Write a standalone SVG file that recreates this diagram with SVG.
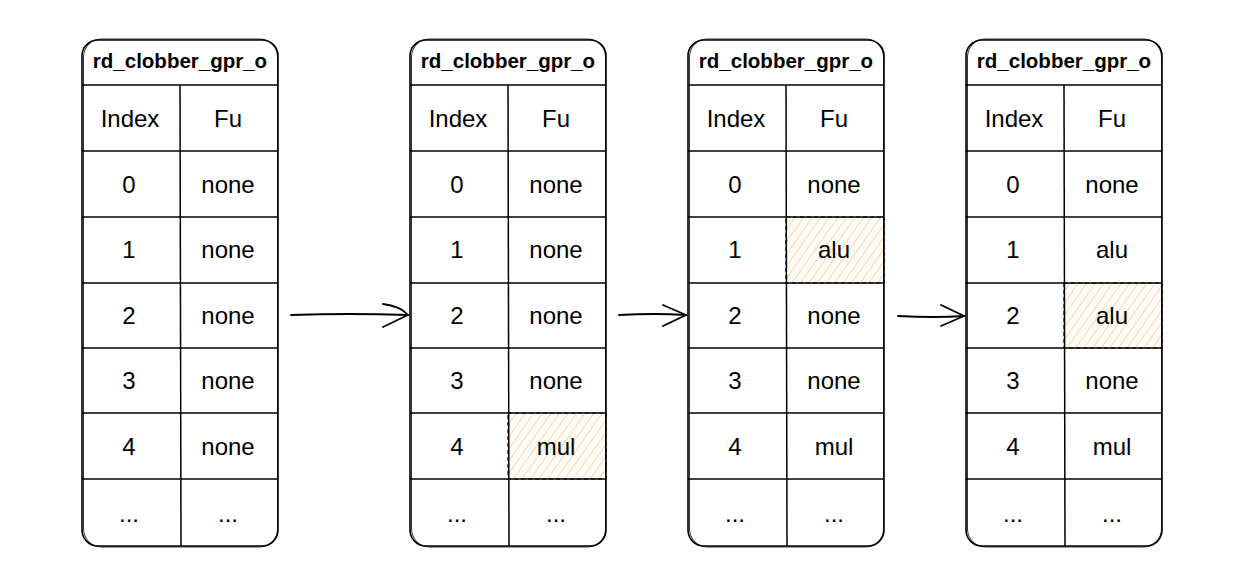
<svg xmlns="http://www.w3.org/2000/svg" width="1251" height="588" viewBox="0 0 1251 588">
<style>
.frame{fill:none;stroke:#000;stroke-width:1.6}
.frame2{fill:none;stroke:#000;stroke-width:1;opacity:0.8}
.ln{stroke:#000;stroke-width:1.5;fill:none}
.hd{font-family:"Liberation Sans",Arial,sans-serif;font-size:20.5px;font-weight:bold;text-anchor:middle;fill:#000}
.tx{font-family:"Liberation Sans",Arial,sans-serif;font-size:24px;text-anchor:middle;fill:#000}
.hatch{fill:url(#hp);stroke:#000;stroke-width:1.2;stroke-dasharray:4 3}
.arr{fill:none;stroke:#000;stroke-width:1.8;stroke-linecap:round}
</style>
<defs>
<pattern id="hp" patternUnits="userSpaceOnUse" width="7" height="7" patternTransform="rotate(35)">
<rect width="7" height="7" fill="#fffcf8"/>
<line x1="0" y1="0" x2="0" y2="7" stroke="#f8d6b2" stroke-width="2"/>
</pattern>
<g id="tbl">
<rect class="frame" x="0" y="0" width="196" height="506" rx="16"/>
<rect class="frame2" x="1.5" y="-1" width="194" height="508" rx="18"/>
<line class="ln" x1="0" y1="45" x2="196" y2="45"/>
<line class="ln" x1="98" y1="45" x2="99" y2="506"/>
<line class="ln" x1="0" y1="111" x2="196" y2="111"/>
<line class="ln" x1="0" y1="177" x2="196" y2="177"/>
<line class="ln" x1="0" y1="243" x2="196" y2="243"/>
<line class="ln" x1="0" y1="308" x2="196" y2="308"/>
<line class="ln" x1="0" y1="373" x2="196" y2="373"/>
<line class="ln" x1="0" y1="439" x2="196" y2="439"/>
<text class="hd" x="98" y="28">rd_clobber_gpr_o</text>
<text class="tx" x="48" y="87">Index</text>
<text class="tx" x="146" y="87">Fu</text>
<text class="tx" x="47" y="153">0</text>
<text class="tx" x="47" y="218">1</text>
<text class="tx" x="47" y="284">2</text>
<text class="tx" x="47" y="349">3</text>
<text class="tx" x="47" y="415">4</text>
<text class="tx" x="47" y="482">...</text>
<text class="tx" x="146" y="482">...</text>
</g>
</defs>
<g id="table1" transform="translate(82,40)">
<use href="#tbl"/>
<text class="tx" x="146" y="153">none</text>
<text class="tx" x="146" y="218">none</text>
<text class="tx" x="146" y="284">none</text>
<text class="tx" x="146" y="349">none</text>
<text class="tx" x="146" y="415">none</text>
</g>
<g id="table2" transform="translate(410,40)">
<rect class="hatch" x="98" y="373" width="98" height="66"/>
<use href="#tbl"/>
<text class="tx" x="146" y="153">none</text>
<text class="tx" x="146" y="218">none</text>
<text class="tx" x="146" y="284">none</text>
<text class="tx" x="146" y="349">none</text>
<text class="tx" x="146" y="415">mul</text>
</g>
<g id="table3" transform="translate(688,40)">
<rect class="hatch" x="98" y="177" width="98" height="66"/>
<use href="#tbl"/>
<text class="tx" x="146" y="153">none</text>
<text class="tx" x="146" y="218">alu</text>
<text class="tx" x="146" y="284">none</text>
<text class="tx" x="146" y="349">none</text>
<text class="tx" x="146" y="415">mul</text>
</g>
<g id="table4" transform="translate(966,40)">
<rect class="hatch" x="98" y="243" width="98" height="65"/>
<use href="#tbl"/>
<text class="tx" x="146" y="153">none</text>
<text class="tx" x="146" y="218">alu</text>
<text class="tx" x="146" y="284">alu</text>
<text class="tx" x="146" y="349">none</text>
<text class="tx" x="146" y="415">mul</text>
</g>
<g id="connectors">
<path class="arr" d="M291 315 Q350 313 408 315"/>
<path class="arr" d="M383 304 Q400 306 408 315 M408 315 L383 327"/>
<path class="arr" d="M619 315 Q655 313 686 315"/>
<path class="arr" d="M663 305 L686 315 L663 326"/>
<path class="arr" d="M898 316 Q935 318 964 316"/>
<path class="arr" d="M941 305 L964 316 L941 326"/>
</g>
</svg>
